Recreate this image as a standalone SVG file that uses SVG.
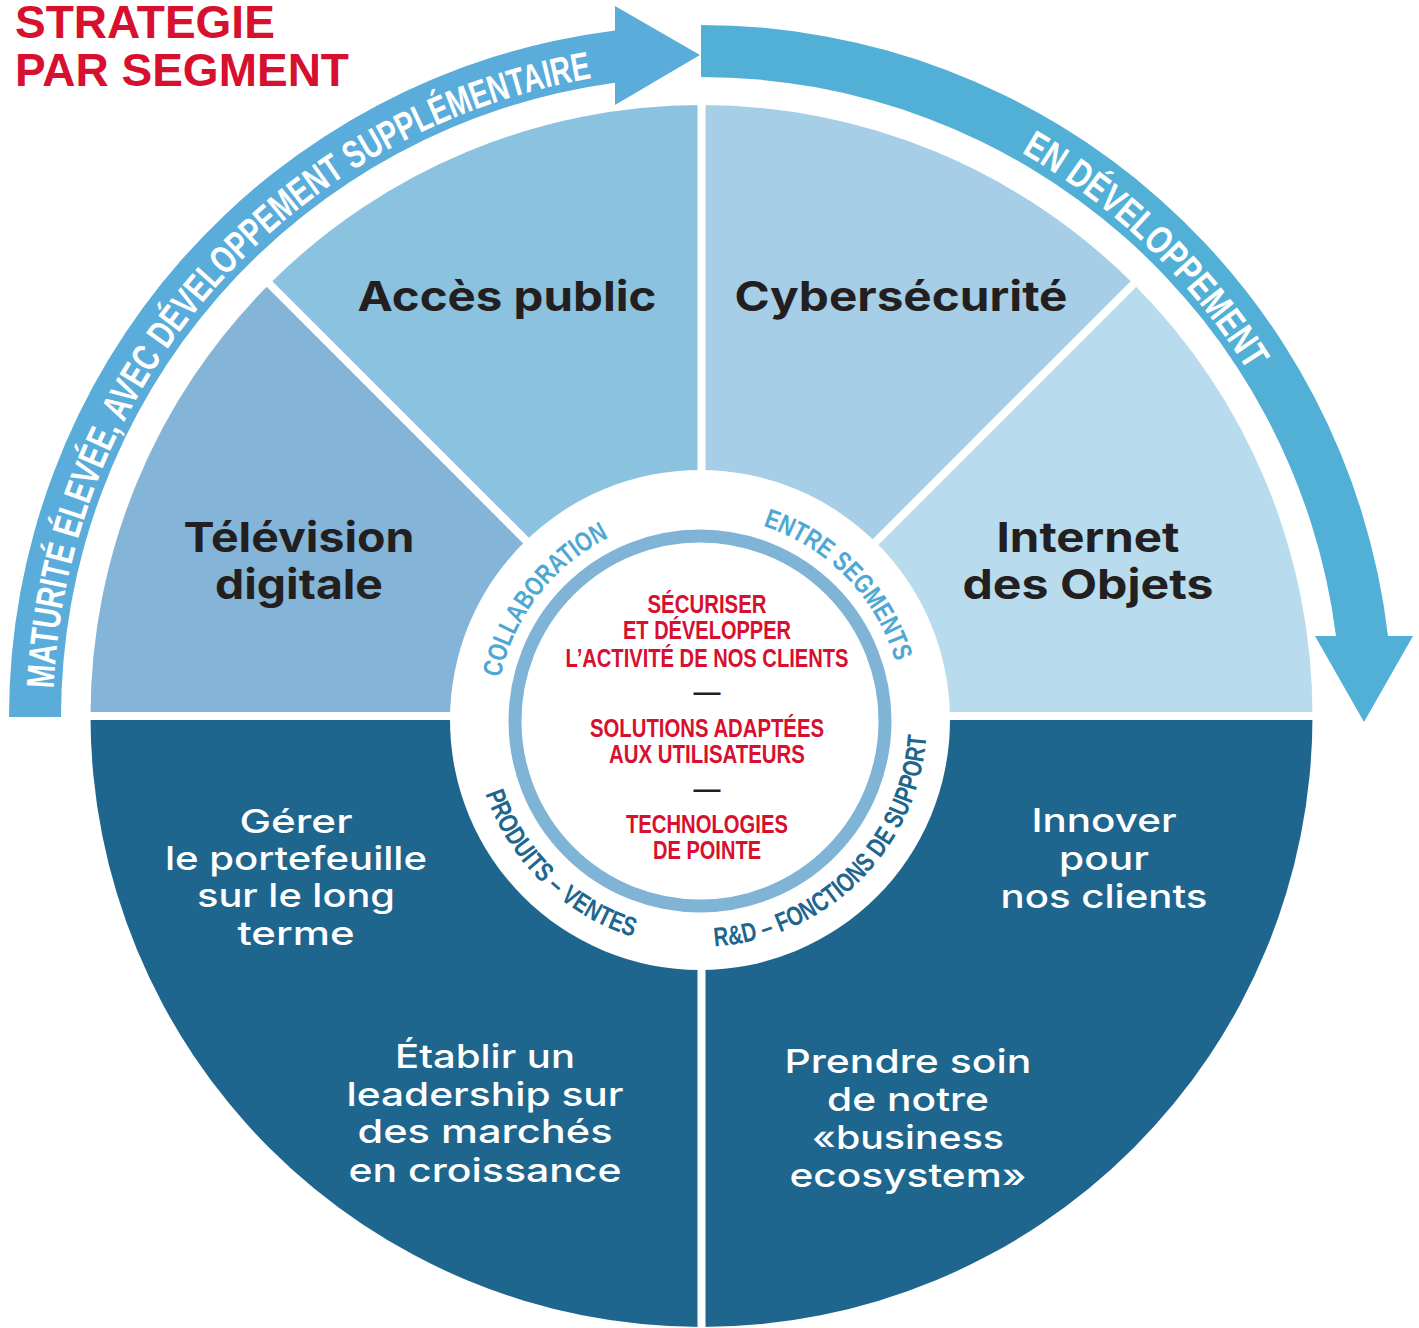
<svg xmlns="http://www.w3.org/2000/svg" width="1419" height="1328" viewBox="0 0 1419 1328">
<defs>
<style>
.title{font-family:"Liberation Sans",Arial,sans-serif;font-weight:700;font-size:46px;fill:#D6102E}
.lbl{font-family:Inter,"Liberation Sans",sans-serif;font-weight:700;font-size:41px;fill:#231F20;text-anchor:middle}
.wlbl{font-family:Inter,"Liberation Sans",sans-serif;font-weight:500;font-size:33px;fill:#FFFFFF;text-anchor:middle}
.red{font-family:"Liberation Sans",Arial,sans-serif;font-weight:700;font-size:25px;fill:#D6102E;text-anchor:middle}
.dash{font-family:"Liberation Sans",Arial,sans-serif;font-weight:700;font-size:25px;fill:#231F20;text-anchor:middle}
.ring{font-family:"Liberation Sans",Arial,sans-serif;font-weight:700;font-size:27px}
.arc{font-family:"Liberation Sans",Arial,sans-serif;font-weight:700;font-size:39px;fill:#FFFFFF}
.sep{stroke:#FFFFFF;stroke-width:8;fill:none}
</style>
<path id="pLeftArc" d="M53.6,688.7 A648,648 0 0 1 594.1,77.9"/>
<path id="pRightArc" d="M1021.3,152.5 A648,648 0 0 1 1247.4,370.2"/>
<path id="pCollab" d="M500.5,677.6 A204,204 0 0 1 609.0,537.4"/>
<path id="pEntre" d="M763.0,526.0 A204,204 0 0 1 895.6,662.1"/>
<path id="pProd" d="M485.4,793.9 A227,227 0 0 0 633.6,937.1"/>
<path id="pRD" d="M714.6,946.5 A227,227 0 0 0 926.5,734.6"/>
</defs>
<rect width="1419" height="1328" fill="#FFFFFF"/>

<g id="title">
<text class="title" x="15" y="38">STRATEGIE</text>
<text class="title" x="15" y="86">PAR SEGMENT</text>
</g>

<g id="node-television">
<path d="M701.5,716 L90.5,716 A611,611 0 0 1 269.5,284 Z" fill="#84B4D8"/>
<text class="lbl" x="299" y="552" textLength="231" lengthAdjust="spacingAndGlyphs">Télévision</text>
<text class="lbl" x="299" y="599" textLength="168" lengthAdjust="spacingAndGlyphs">digitale</text>
</g>
<g id="node-acces-public">
<path d="M701.5,716 L269.5,284 A611,611 0 0 1 701.5,105 Z" fill="#8AC2E0"/>
<text class="lbl" x="507" y="311" textLength="299" lengthAdjust="spacingAndGlyphs">Accès public</text>
</g>
<g id="node-cybersecurite">
<path d="M701.5,716 L701.5,105 A611,611 0 0 1 1133.5,284 Z" fill="#A6CEE7"/>
<text class="lbl" x="901" y="311" textLength="333" lengthAdjust="spacingAndGlyphs">Cybersécurité</text>
</g>
<g id="node-iot">
<path d="M701.5,716 L1133.5,284 A611,611 0 0 1 1312.5,716 Z" fill="#B8DCEE"/>
<text class="lbl" x="1088" y="552" textLength="183" lengthAdjust="spacingAndGlyphs">Internet</text>
<text class="lbl" x="1088" y="599" textLength="251" lengthAdjust="spacingAndGlyphs">des Objets</text>
</g>
<g id="node-bottom-left">
<path d="M701.5,716 L701.5,1327 A611,611 0 0 1 90.5,716 Z" fill="#1E668E"/>
<text class="wlbl" x="296" y="833" textLength="113" lengthAdjust="spacingAndGlyphs">Gérer</text>
<text class="wlbl" x="296" y="870" textLength="262" lengthAdjust="spacingAndGlyphs">le portefeuille</text>
<text class="wlbl" x="296" y="907" textLength="198" lengthAdjust="spacingAndGlyphs">sur le long</text>
<text class="wlbl" x="296" y="945" textLength="117" lengthAdjust="spacingAndGlyphs">terme</text>
<text class="wlbl" x="485" y="1068" textLength="180" lengthAdjust="spacingAndGlyphs">Établir un</text>
<text class="wlbl" x="485" y="1106" textLength="277" lengthAdjust="spacingAndGlyphs">leadership sur</text>
<text class="wlbl" x="485" y="1143" textLength="255" lengthAdjust="spacingAndGlyphs">des marchés</text>
<text class="wlbl" x="485" y="1182" textLength="273" lengthAdjust="spacingAndGlyphs">en croissance</text>
</g>
<g id="node-bottom-right">
<path d="M701.5,716 L1312.5,716 A611,611 0 0 1 701.5,1327 Z" fill="#1E668E"/>
<text class="wlbl" x="1104" y="832" textLength="145" lengthAdjust="spacingAndGlyphs">Innover</text>
<text class="wlbl" x="1104" y="870" textLength="90" lengthAdjust="spacingAndGlyphs">pour</text>
<text class="wlbl" x="1104" y="908" textLength="207" lengthAdjust="spacingAndGlyphs">nos clients</text>
<text class="wlbl" x="908" y="1073" textLength="247" lengthAdjust="spacingAndGlyphs">Prendre soin</text>
<text class="wlbl" x="908" y="1111" textLength="162" lengthAdjust="spacingAndGlyphs">de notre</text>
<text class="wlbl" x="908" y="1149" textLength="192" lengthAdjust="spacingAndGlyphs">«business</text>
<text class="wlbl" x="908" y="1187" textLength="237" lengthAdjust="spacingAndGlyphs">ecosystem»</text>
</g>

<g id="separators">
<line class="sep" x1="80" y1="716" x2="1322" y2="716"/>
<line class="sep" x1="701.5" y1="95" x2="701.5" y2="1328"/>
<line class="sep" x1="701.5" y1="716" x2="262" y2="276.5"/>
<line class="sep" x1="701.5" y1="716" x2="1141" y2="276.5"/>
</g>

<g id="node-hub">
<circle cx="700" cy="720" r="250" fill="#FFFFFF"/>
<circle cx="700" cy="721" r="185" fill="none" stroke="#80B4D6" stroke-width="13"/>
<text class="ring" fill="#4FA7D4"><textPath href="#pCollab" textLength="183" lengthAdjust="spacingAndGlyphs">COLLABORATION</textPath></text>
<text class="ring" fill="#4FA7D4"><textPath href="#pEntre" textLength="197" lengthAdjust="spacingAndGlyphs">ENTRE SEGMENTS</textPath></text>
<text class="ring" fill="#1E668E"><textPath href="#pProd" textLength="213" lengthAdjust="spacingAndGlyphs">PRODUITS – VENTES</textPath></text>
<text class="ring" fill="#1E668E"><textPath href="#pRD" textLength="326" lengthAdjust="spacingAndGlyphs">R&amp;D – FONCTIONS DE SUPPORT</textPath></text>
<text class="red" x="707" y="613" textLength="119" lengthAdjust="spacingAndGlyphs">SÉCURISER</text>
<text class="red" x="707" y="639" textLength="168" lengthAdjust="spacingAndGlyphs">ET DÉVELOPPER</text>
<text class="red" x="707" y="667" textLength="283" lengthAdjust="spacingAndGlyphs">L’ACTIVITÉ DE NOS CLIENTS</text>
<text class="dash" x="707" y="701" textLength="27" lengthAdjust="spacingAndGlyphs">—</text>
<text class="red" x="707" y="737" textLength="234" lengthAdjust="spacingAndGlyphs">SOLUTIONS ADAPTÉES</text>
<text class="red" x="707" y="763" textLength="196" lengthAdjust="spacingAndGlyphs">AUX UTILISATEURS</text>
<text class="dash" x="707" y="798" textLength="27" lengthAdjust="spacingAndGlyphs">—</text>
<text class="red" x="707" y="833" textLength="162" lengthAdjust="spacingAndGlyphs">TECHNOLOGIES</text>
<text class="red" x="707" y="859" textLength="108" lengthAdjust="spacingAndGlyphs">DE POINTE</text>
</g>

<g id="connectors">
<path id="arrow-maturite" d="M9,717 A692,692 0 0 1 615,30.4 L615,6 L700,55 L615,105 L615,82.8 A640,640 0 0 0 61,717 Z" fill="#5AACDB"/>
<path id="arrow-developpement" d="M701,25 A692,692 0 0 1 1388,636 L1413,636 L1364,722 L1315,636 L1336,636 A640,640 0 0 0 701,77 Z" fill="#52AFD6"/>
<text class="arc"><textPath href="#pLeftArc" textLength="880" lengthAdjust="spacingAndGlyphs">MATURITÉ ÉLEVÉE, AVEC DÉVELOPPEMENT SUPPLÉMENTAIRE</textPath></text>
<text class="arc"><textPath href="#pRightArc" textLength="318" lengthAdjust="spacingAndGlyphs">EN DÉVELOPPEMENT</textPath></text>
</g>
</svg>
